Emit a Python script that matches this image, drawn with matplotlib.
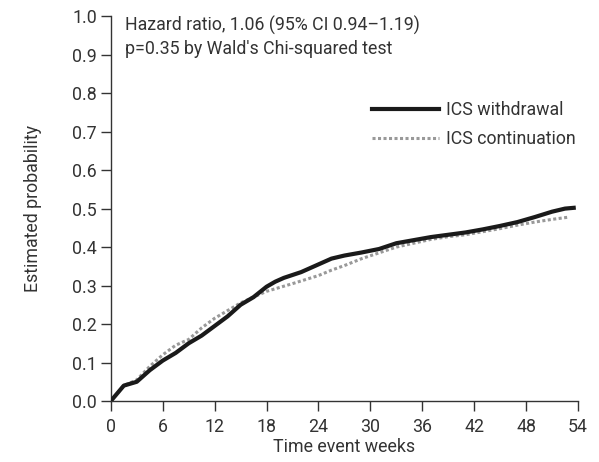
# Cumulative incidence: ICS withdrawal vs continuation

import numpy as np
import matplotlib.pyplot as plt

plt.rcParams['font.family'] = ['Roboto', 'DejaVu Sans']

# Estimated probability (weeks)
weeks_w = [0, 1.5, 3, 4.5, 6, 7.5, 9, 10.5, 12, 13.5, 15, 16.5, 18, 19, 20, 22,
           24, 25.5, 27, 29, 31, 33, 35, 37, 39, 41, 43, 45, 47, 49, 51, 52.5, 53.5]
prob_w = [0.0, 0.04, 0.05, 0.08, 0.105, 0.125, 0.15, 0.17, 0.195, 0.22, 0.25,
          0.27, 0.297, 0.31, 0.32, 0.335, 0.355, 0.37, 0.378, 0.386, 0.395,
          0.41, 0.418, 0.426, 0.432, 0.438, 0.446, 0.455, 0.465, 0.478, 0.492,
          0.50, 0.502]

weeks_c = [0, 1.5, 3, 4.5, 6, 7.5, 9, 10.5, 12, 13.5, 15, 16.5, 18, 21, 24,
           25.5, 27, 29, 31, 33, 35, 37, 39, 41, 43, 45, 47, 49, 51, 53]
prob_c = [0.0, 0.04, 0.055, 0.09, 0.12, 0.145, 0.16, 0.19, 0.215, 0.235, 0.255,
          0.27, 0.285, 0.305, 0.326, 0.34, 0.352, 0.37, 0.385, 0.40, 0.41,
          0.42, 0.427, 0.432, 0.44, 0.448, 0.457, 0.465, 0.472, 0.478]

xticks = [0, 6, 12, 18, 24, 30, 36, 42, 48, 54]
yticks = [0.0, 0.1, 0.2, 0.3, 0.4, 0.5, 0.6, 0.7, 0.8, 0.9, 1.0]

text_col = '#333333'
fs = 12.8

fig = plt.figure(figsize=(5.99, 4.62), dpi=100)
ax = fig.add_axes([0.185, 0.132, 0.78, 0.833])

ax.plot(weeks_w, prob_w, color='#1a1a1a', lw=3.0,
        label='ICS withdrawal', zorder=3)
ax.plot(weeks_c, prob_c, color='#999999', lw=2.2,
        linestyle=(0, (1, 0.8)), label='ICS continuation', zorder=2)

ax.set_xlim(0, 54)
ax.set_ylim(0, 1.0)
ax.set_xticks(xticks)
ax.set_yticks(yticks)
ax.set_yticklabels([f'{v:.1f}' for v in yticks])
ax.spines['top'].set_visible(False)
ax.spines['right'].set_visible(False)
for s in ['left', 'bottom']:
    ax.spines[s].set_color(text_col)
    ax.spines[s].set_linewidth(1.0)
ax.tick_params(colors=text_col, labelsize=fs, length=7, width=1.0, pad=3)
ax.tick_params(axis='x', pad=5)
ax.margins(0)

ax.set_xlabel('Time event weeks', fontsize=fs, color=text_col, labelpad=2)
ax.set_ylabel('Estimated probability', fontsize=fs, color=text_col, labelpad=22)

ax.text(0.03, 1.0, 'Hazard ratio, 1.06 (95% CI 0.94\u20131.19)\np=0.35 by Wald\'s Chi-squared test',
        transform=ax.transAxes, fontsize=fs, color=text_col, va='top',
        linespacing=1.3)

ax.legend(loc='upper right', bbox_to_anchor=(1.03, 0.82), frameon=False,
          fontsize=fs, handlelength=3.8, handletextpad=0.4,
          labelcolor=text_col, labelspacing=0.6)

plt.savefig('out.png', dpi=100)
